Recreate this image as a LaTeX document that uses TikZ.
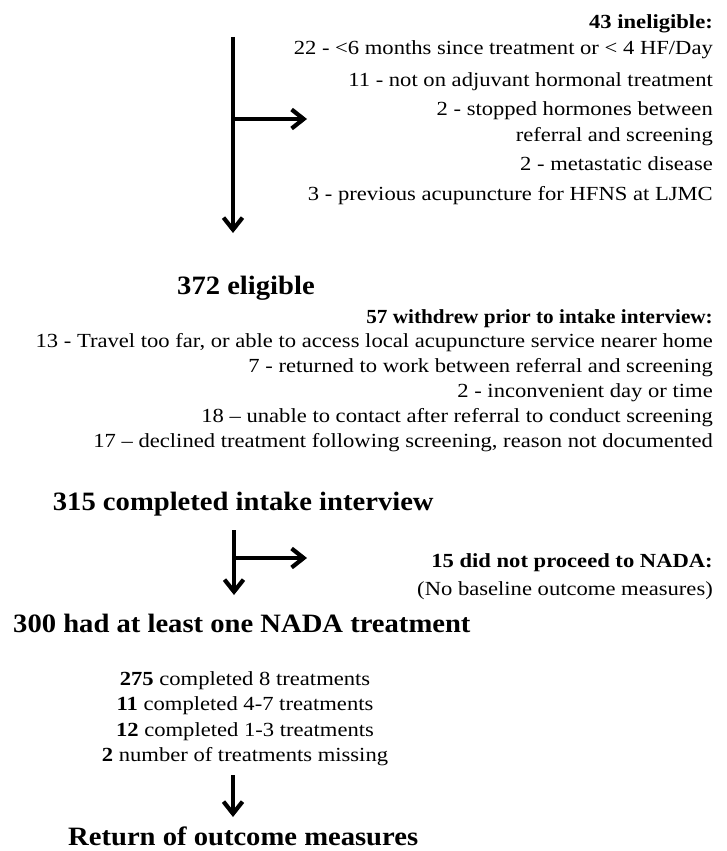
\documentclass[tikz,border=0pt]{standalone}
\usepackage{fontspec}
\setmainfont{Liberation Serif}
\usepackage{graphicx}
\usetikzlibrary{arrows.meta}
\newcommand\sx[1]{\scalebox{1.13}[1]{#1}}
\newcommand\wx[1]{\scalebox{1.06}[1]{#1}}
\newcommand\hx[1]{\scalebox{1.08}[1]{#1}}
\tikzset{
  sm/.style={inner sep=0pt, font=\fontsize{20}{24}\selectfont},
  smb/.style={inner sep=0pt, font=\fontsize{20}{24}\selectfont\bfseries},
  hd/.style={inner sep=0pt, font=\fontsize{26.5}{30}\selectfont\bfseries},
  arr/.style={line width=4.2pt, -{Straight Barb[length=12pt,width=19pt]}}
}
\begin{document}
\begin{tikzpicture}[x=1pt,y=-1pt]
\useasboundingbox (0,0) rectangle (727,851);
% ---- top section
\node[smb,anchor=base east] (h1) at (713,29) {\sx{43 ineligible:}};
\node[sm,anchor=base east] (i1) at (713,55) {\sx{22 - <6 months since treatment or < 4 HF/Day}};
\node[sm,anchor=base east] (i2) at (713,86) {\sx{11 - not on adjuvant hormonal treatment}};
\node[sm,anchor=base east] (i3) at (713,115) {\sx{2 - stopped hormones between}};
\node[sm,anchor=base east] (i4) at (713,141) {\sx{referral and screening}};
\node[sm,anchor=base east] (i5) at (713,170) {\sx{2 - metastatic disease}};
\node[sm,anchor=base east] (i6) at (713,200) {\sx{3 - previous acupuncture for HFNS at LJMC}};
\coordinate (t1) at (233,37);
\coordinate (t2) at (233,233);
\coordinate (t3) at (233,119);
\coordinate (t4) at (307,119);
\draw[arr] (t1) -- (t2);
\draw[arr] (t3) -- (t4);
% ---- middle section
\node[hd,anchor=base west] (e) at (177,294) {\hx{372 eligible}};
\node[smb,anchor=base east] (w) at (713,323) {\wx{57 withdrew prior to intake interview:}};
\node[sm,anchor=base east] (w1) at (713,347.5) {\sx{13 - Travel too far, or able to access local acupuncture service nearer home}};
\node[sm,anchor=base east] (w2) at (713,372.5) {\sx{7 - returned to work between referral and screening}};
\node[sm,anchor=base east] (w3) at (713,397.5) {\sx{2 - inconvenient day or time}};
\node[sm,anchor=base east] (w4) at (713,422.5) {\sx{18 – unable to contact after referral to conduct screening}};
\node[sm,anchor=base east] (w5) at (713,447.5) {\sx{17 – declined treatment following screening, reason not documented}};
\node[hd,anchor=base west] (c) at (52.7,510) {\hx{315 completed intake interview}};
% ---- NADA section
\coordinate (m1) at (234,530);
\coordinate (m2) at (234,595);
\coordinate (m3) at (234,558);
\coordinate (m4) at (307,558);
\draw[arr] (m1) -- (m2);
\draw[arr] (m3) -- (m4);
\node[smb,anchor=base east] (n1) at (713,567) {\sx{15 did not proceed to NADA:}};
\node[sm,anchor=base east] (n2) at (713,595) {\sx{(No baseline outcome measures)}};
\node[hd,anchor=base west] (p) at (13,632) {\hx{300 had at least one NADA treatment}};
% ---- treatment counts
\node[sm,anchor=base] (l1) at (245,685) {\sx{\textbf{275} completed 8 treatments}};
\node[sm,anchor=base] (l2) at (245,710) {\sx{\textbf{11} completed 4-7 treatments}};
\node[sm,anchor=base] (l3) at (245,736) {\sx{\textbf{12} completed 1-3 treatments}};
\node[sm,anchor=base] (l4) at (245,761.5) {\sx{\textbf{2} number of treatments missing}};
\coordinate (b1) at (233,775);
\coordinate (b2) at (233,817);
\draw[arr] (b1) -- (b2);
\node[hd,anchor=base west] (r) at (68,845) {\hx{Return of outcome measures}};
\end{tikzpicture}
\end{document}
